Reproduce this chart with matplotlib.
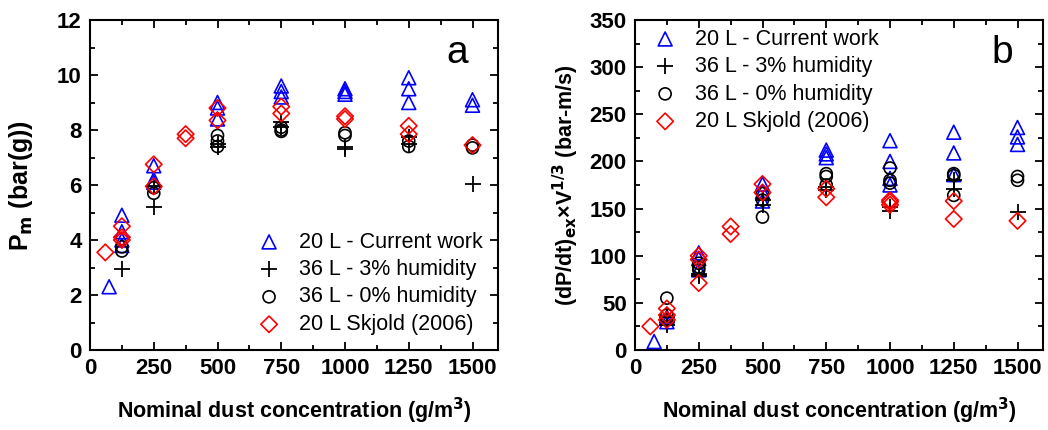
import matplotlib.pyplot as plt
from matplotlib.ticker import MultipleLocator

plt.rcParams['font.family'] = ['Liberation Sans', 'DejaVu Sans']

# ---- panel a: maximum pressure (bar(g)) ----
a_cur_x = [75, 125, 125, 125, 125, 250, 250, 250, 500, 500, 500,
           750, 750, 750, 1000, 1000, 1000, 1250, 1250, 1250, 1500, 1500]
a_cur_y = [2.3, 4.9, 4.3, 4.0, 3.8, 6.7, 6.2, 6.1, 9.0, 8.8, 8.4,
           9.6, 9.4, 9.2, 9.5, 9.4, 9.3, 9.9, 9.5, 9.0, 9.1, 8.9]
a_h3_x = [125, 250, 250, 500, 500, 750, 750, 1000, 1000, 1250, 1250, 1500]
a_h3_y = [2.95, 5.2, 5.95, 7.5, 7.4, 8.3, 8.1, 7.4, 7.3, 7.75, 7.5, 6.05]
a_h0_x = [125, 125, 250, 250, 500, 500, 500, 750, 750, 750,
          1000, 1000, 1250, 1250, 1500, 1500]
a_h0_y = [3.75, 3.6, 5.9, 5.7, 7.8, 7.6, 7.4, 8.1, 8.0, 7.95,
          7.9, 7.8, 7.6, 7.4, 7.45, 7.35]
a_sk_x = [60, 125, 125, 125, 250, 250, 375, 375, 500, 500,
          750, 750, 1000, 1000, 1250, 1250, 1500]
a_sk_y = [3.55, 4.5, 4.1, 4.0, 6.75, 5.95, 7.85, 7.7, 8.8, 8.35,
          8.85, 8.6, 8.5, 8.4, 8.15, 7.85, 7.45]

# ---- panel b: KSt-type rate (bar-m/s) ----
b_cur_x = [75, 125, 125, 250, 250, 250, 500, 500, 500, 750, 750, 750,
           1000, 1000, 1000, 1000, 1250, 1250, 1250, 1500, 1500, 1500]
b_cur_y = [9, 35, 30, 103, 97, 85, 176, 168, 158, 212, 208, 204,
           222, 200, 182, 175, 231, 209, 186, 236, 226, 218]
b_h3_x = [125, 125, 125, 250, 250, 500, 500, 750, 750,
          1000, 1000, 1250, 1250, 1500]
b_h3_y = [35, 30, 27, 78, 81, 154, 159, 170, 173, 147, 152, 171, 180, 146]
b_h0_x = [125, 125, 125, 250, 250, 250, 500, 500, 500, 750, 750, 750,
          1000, 1000, 1000, 1250, 1250, 1250, 1500, 1500]
b_h0_y = [55, 37, 32, 92, 88, 85, 141, 159, 166, 187, 184, 175,
          193, 180, 177, 187, 185, 164, 184, 180]
b_sk_x = [60, 125, 125, 125, 250, 250, 250, 375, 375, 500, 500,
          750, 750, 1000, 1000, 1000, 1250, 1250, 1500]
b_sk_y = [25, 44, 37, 32, 100, 96, 71, 131, 123, 176, 167,
          171, 162, 159, 157, 154, 158, 139, 137]

labels = ['20 L - Current work', '36 L - 3% humidity',
          '36 L - 0% humidity', '20 L Skjold (2006)']

fig = plt.figure(figsize=(10.48, 4.3), dpi=100)
ax1 = fig.add_axes([90 / 1048, 80 / 430, 408 / 1048, 330 / 430])
ax2 = fig.add_axes([635 / 1048, 80 / 430, 408 / 1048, 330 / 430])


def draw(ax, series):
    (cx, cy), (hx, hy), (ox, oy), (sx, sy) = series
    ax.scatter(cx, cy, marker='^', s=100, facecolors='none',
               edgecolors='blue', linewidths=1.2, label=labels[0], zorder=3)
    ax.scatter(hx, hy, marker='+', s=140, color='black',
               linewidths=1.3, label=labels[1], zorder=3)
    ax.scatter(ox, oy, marker='o', s=75, facecolors='none',
               edgecolors='black', linewidths=1.2, label=labels[2], zorder=3)
    ax.scatter(sx, sy, marker='D', s=70, facecolors='none',
               edgecolors='red', linewidths=1.2, label=labels[3], zorder=3)
    ax.set_xlim(0, 1600)
    ax.xaxis.set_major_locator(MultipleLocator(250))
    ax.xaxis.set_minor_locator(MultipleLocator(125))
    ax.tick_params(which='both', direction='in', top=True, right=True,
                   width=1.3)
    ax.tick_params(which='major', length=6, labelsize=16, pad=6)
    ax.tick_params(which='minor', length=3.5)
    for sp in ax.spines.values():
        sp.set_linewidth(1.5)
    ax.set_xlabel('Nominal dust concentration (g/m$^\\mathbf{3}$)',
                  fontsize=15.5, fontweight='bold', labelpad=12)


draw(ax1, [(a_cur_x, a_cur_y), (a_h3_x, a_h3_y), (a_h0_x, a_h0_y), (a_sk_x, a_sk_y)])
ax1.set_ylim(0, 12)
ax1.yaxis.set_major_locator(MultipleLocator(2))
ax1.yaxis.set_minor_locator(MultipleLocator(1))
ax1.set_ylabel('P$_\\mathbf{m}$ (bar(g))', fontsize=18, fontweight='bold',
               labelpad=16)
ax1.text(0.9, 0.87, 'a', transform=ax1.transAxes, fontsize=28, ha='center')
ax1.legend(loc='lower right', fontsize=15.5, frameon=False, handletextpad=0.4,
           labelspacing=0.3, borderaxespad=0.3, scatterpoints=1)

draw(ax2, [(b_cur_x, b_cur_y), (b_h3_x, b_h3_y), (b_h0_x, b_h0_y), (b_sk_x, b_sk_y)])
ax2.set_ylim(0, 350)
ax2.yaxis.set_major_locator(MultipleLocator(50))
ax2.yaxis.set_minor_locator(MultipleLocator(25))
ax2.set_ylabel('(dP/dt)$_\\mathbf{ex}$×V$^\\mathbf{1/3}$ (bar-m/s)',
               fontsize=15.5, fontweight='bold', labelpad=6)
ax2.text(0.9, 0.87, 'b', transform=ax2.transAxes, fontsize=28, ha='center')
ax2.legend(loc='upper left', fontsize=15.5, frameon=False, handletextpad=0.4,
           labelspacing=0.3, borderaxespad=0.0, scatterpoints=1)

for ax in (ax1, ax2):
    for lab in ax.get_xticklabels() + ax.get_yticklabels():
        lab.set_fontweight('bold')

fig.savefig('out.png', dpi=100)
